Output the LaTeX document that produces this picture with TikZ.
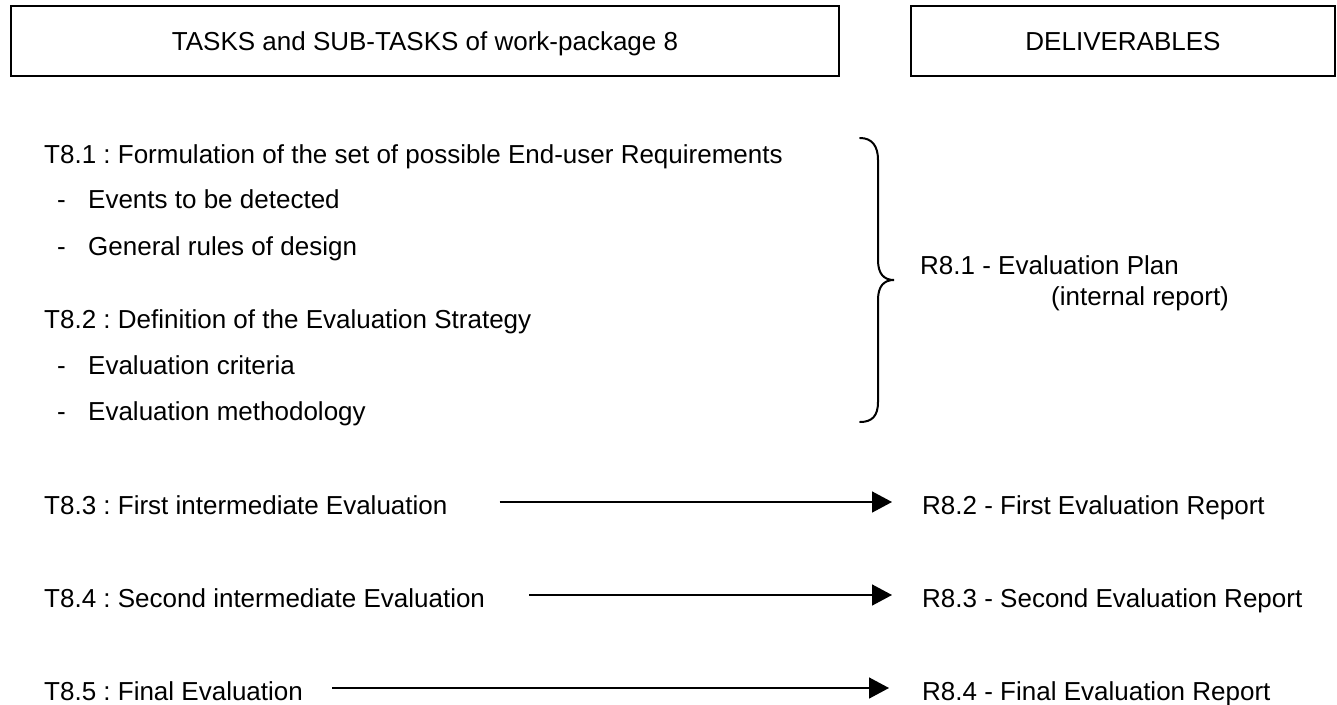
\documentclass[tikz,border=0pt]{standalone}
\usepackage{fontspec}
\setmainfont{Liberation Sans}
\usetikzlibrary{arrows.meta}
\tikzset{
  hdrbox/.style={draw,line width=2pt,minimum height=70pt,inner sep=0pt,text height=18.6pt,text depth=0pt},
  task/.style={anchor=base west,inner sep=0pt},
  deliv/.style={anchor=base west,inner sep=0pt},
  arr/.style={line width=1.5pt,-{Triangle[length=20pt,width=21pt]}},
  brc/.style={line width=2pt,line cap=round},
}
\begin{document}
\frenchspacing
\begin{tikzpicture}[x=1pt,y=-1pt,font=\fontsize{26}{31}\selectfont]
\useasboundingbox (0,0) rectangle (1337,704);
% header boxes
\node[hdrbox,minimum width=828pt] (hdtask) at (425,41) {TASKS and SUB-TASKS of work-package 8};
\node[hdrbox,minimum width=424pt] (hddeliv) at (1123,41) {DELIVERABLES};
% tasks and sub-tasks
\node[task] (t81) at (44,163) {T8.1 : Formulation of the set of possible End-user Requirements};
\node[task] (t82) at (44,328) {T8.2 : Definition of the Evaluation Strategy};
\foreach \lab/\yy/\nm in {Events to be detected/208/s1,General rules of design/255/s2,Evaluation criteria/374/s3,Evaluation methodology/420/s4}{
  \node[task] (\nm) at (57,\yy) {\makebox[31pt][l]{-}\lab};}
\node[task] (t83) at (44,514) {T8.3 : First intermediate Evaluation};
\node[task] (t84) at (44,607) {T8.4 : Second intermediate Evaluation};
\node[task] (t85) at (44,700) {T8.5 : Final Evaluation};
% deliverables
\node[deliv] (r81) at (920,274) {R8.1 - Evaluation Plan};
\node[deliv] (r81b) at (1051,305) {(internal report)};
\node[deliv] (r82) at (922,514) {R8.2 - First Evaluation Report};
\node[deliv] (r83) at (922,607) {R8.3 - Second Evaluation Report};
\node[deliv] (r84) at (922,700) {R8.4 - Final Evaluation Report};
% brace for T8.1 and T8.2
\draw[brc] (860,138) .. controls (872,138) and (878,146) .. (878,160) -- (878,260)
  .. controls (878,274) and (884,280) .. (894,280)
  .. controls (884,280) and (878,286) .. (878,300) -- (878,402)
  .. controls (878,416) and (872,422) .. (860,422);
\draw[arr] ([shift={(52,-12)}]t83.base east) -- ([shift={(-30,-12)}]r82.base west);
\draw[arr] ([shift={(44,-12)}]t84.base east) -- ([shift={(-30,-12)}]r83.base west);
\draw[arr] ([shift={(29,-12)}]t85.base east) -- ([shift={(-33,-12)}]r84.base west);
\end{tikzpicture}
\end{document}
